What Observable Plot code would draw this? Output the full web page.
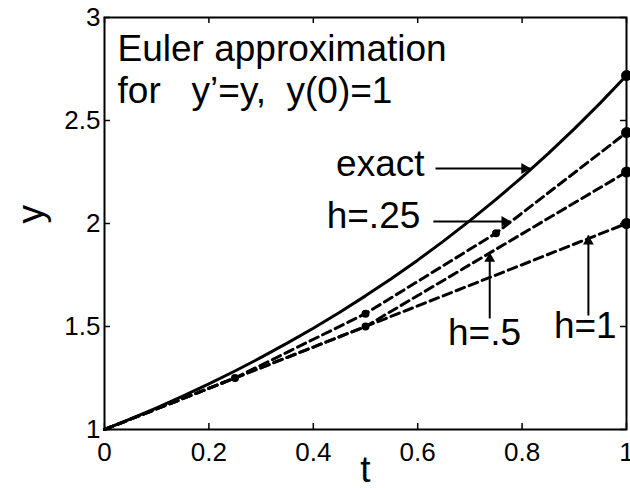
<!DOCTYPE html>
<html>
<head>
<meta charset="utf-8">
<script src="https://cdn.jsdelivr.net/npm/d3@7"></script>
<script src="https://cdn.jsdelivr.net/npm/@observablehq/plot@0.6"></script>
<style>
  html, body { margin: 0; padding: 0; background: white; }
  svg { display: block; }
</style>
</head>
<body>
<div id="chart"></div>
<script>
// Exact solution y = e^t (values read / tabulated)
const exactT = [0, 0.05, 0.1, 0.15, 0.2, 0.25, 0.3, 0.35, 0.4, 0.45, 0.5, 0.55, 0.6, 0.65, 0.7, 0.75, 0.8, 0.85, 0.9, 0.95, 1];
const exactY = [1, 1.0513, 1.1052, 1.1618, 1.2214, 1.2840, 1.3499, 1.4191, 1.4918, 1.5683, 1.6487, 1.7333, 1.8221, 1.9155, 2.0138, 2.1170, 2.2255, 2.3396, 2.4596, 2.5857, 2.7183];
// Euler approximations
const h1T = [0, 1];
const h1Y = [1, 2];
const h05T = [0, 0.5, 1];
const h05Y = [1, 1.5, 2.25];
const h025T = [0, 0.25, 0.5, 0.75, 1];
const h025Y = [1, 1.25, 1.5625, 1.9531, 2.4414];
// Ticks
const xTicks = [0, 0.2, 0.4, 0.6, 0.8, 1];
const yTicks = [1, 1.5, 2, 2.5, 3];
// Annotation texts
const titleLines = ["Euler approximation", "for\u00A0\u00A0\u00A0y\u2019=y,\u00A0\u00A0y(0)=1"];
const labelNames = ["exact", "h=.25", "h=.5", "h=1"];
const xLabel = "t";
const yLabel = "y";

const toRows = (T, Y) => T.map((t, i) => ({t, y: Y[i]}));
const exact = toRows(exactT, exactY);
const h1 = toRows(h1T, h1Y);
const h05 = toRows(h05T, h05Y);
const h025 = toRows(h025T, h025Y);

const endDots = [exact, h025, h05, h1].map(s => s[s.length - 1]);
const midDots = [...h025.slice(1, -1), ...h05.slice(1, -1)];

// annotation placement (data coordinates)
const titleAt = [{x: 0.025, y: 2.791}, {x: 0.025, y: 2.583}];
const labelAt = [
  {x: 0.613, y: 2.233, anchor: "end"},
  {x: 0.605, y: 1.976, anchor: "end"},
  {x: 0.728, y: 1.408, anchor: "middle"},
  {x: 0.921, y: 1.442, anchor: "middle"}
];
const arrowsH = [
  {x1: 0.634, y1: 2.267, x2: 0.816, y2: 2.267},
  {x1: 0.630, y1: 2.010, x2: 0.778, y2: 2.010}
];
const arrowsV = [
  {x1: 0.738, y1: 1.539, x2: 0.738, y2: 1.859},
  {x1: 0.927, y1: 1.553, x2: 0.927, y2: 1.942}
];

const titles = titleLines.map((s, i) => ({text: s, ...titleAt[i]}));
const labels = labelNames.map((s, i) => ({text: s, ...labelAt[i]}));

const W = 630, H = 488, mL = 104, mR = 4, mT = 17, mB = 59;
const fw = W - mL - mR, fh = H - mT - mB, tl = 6;
const font = 37;
const fmt = d => `${d}`;

const chart = Plot.plot({
  width: W, height: H,
  marginLeft: mL, marginRight: mR, marginTop: mT, marginBottom: mB,
  x: {domain: [0, 1]},
  y: {domain: [1, 3]},
  style: {fontFamily: "'Liberation Sans', Arial, Helvetica, sans-serif", background: "white", color: "black"},
  marks: [
    Plot.axisX({ticks: xTicks, tickFormat: fmt, tickSize: 0, tickPadding: 13, fontSize: 26, label: null}),
    Plot.axisY({ticks: yTicks, tickFormat: fmt, tickSize: 0, tickPadding: 4, fontSize: 26, label: null}),
    Plot.tickX(xTicks, {x: d => d, insetTop: fh - tl, stroke: "black", strokeWidth: 1.5}),
    Plot.tickX(xTicks, {x: d => d, insetBottom: fh - tl, stroke: "black", strokeWidth: 1.5}),
    Plot.tickY(yTicks, {y: d => d, insetRight: fw - tl, stroke: "black", strokeWidth: 1.5}),
    Plot.tickY(yTicks, {y: d => d, insetLeft: fw - tl, stroke: "black", strokeWidth: 1.5}),
    Plot.frame({stroke: "black", strokeWidth: 2}),
    Plot.line(exact, {x: "t", y: "y", stroke: "black", strokeWidth: 3}),
    Plot.line(h025, {x: "t", y: "y", stroke: "black", strokeWidth: 3, strokeDasharray: "9,5"}),
    Plot.line(h05, {x: "t", y: "y", stroke: "black", strokeWidth: 3, strokeDasharray: "9,5"}),
    Plot.line(h1, {x: "t", y: "y", stroke: "black", strokeWidth: 3, strokeDasharray: "9,5"}),
    Plot.dot(endDots, {x: "t", y: "y", r: 5.5, fill: "black"}),
    Plot.dot(midDots, {x: "t", y: "y", r: 4, fill: "black"}),
    Plot.link([...arrowsH, ...arrowsV], {x1: "x1", y1: "y1", x2: "x2", y2: "y2", stroke: "black", strokeWidth: 2}),
    Plot.dot(arrowsH, {x: "x2", y: "y2", symbol: "triangle", r: 4, fill: "black", rotate: 90, dx: -6}),
    Plot.dot(arrowsV, {x: "x2", y: "y2", symbol: "triangle", r: 4, fill: "black", dy: 6}),
    Plot.text(titles, {x: "x", y: "y", text: "text", textAnchor: "start", lineAnchor: "bottom", fontSize: font, fill: "black"}),
    Plot.text(labels.filter(d => d.anchor === "end"), {x: "x", y: "y", text: "text", textAnchor: "end", lineAnchor: "bottom", fontSize: font, fill: "black"}),
    Plot.text(labels.filter(d => d.anchor === "middle"), {x: "x", y: "y", text: "text", textAnchor: "middle", lineAnchor: "bottom", fontSize: font, fill: "black"}),
    Plot.text([xLabel], {text: d => d, frameAnchor: "bottom", dy: 52, lineAnchor: "bottom", fontSize: font, fill: "black"}),
    Plot.text([yLabel], {text: d => d, frameAnchor: "left", dx: -62, rotate: -90, lineAnchor: "bottom", fontSize: font, fill: "black"})
  ]
});
document.getElementById("chart").appendChild(chart);
</script>
</body>
</html>
